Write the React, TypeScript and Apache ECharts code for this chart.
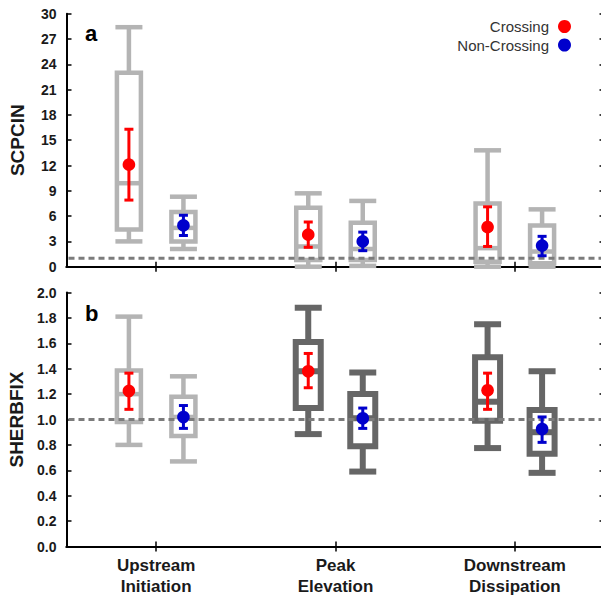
import React, { useEffect, useRef } from 'react';
import * as echarts from 'echarts';

// Categories (x axis)
const categories = ['Upstream\nInitiation', 'Peak\nElevation', 'Downstream\nDissipation'];
const groupNames = ['Crossing', 'Non-Crossing'];

// Panel a: SCPCIN box statistics [min, Q1, median, Q3, max]
const scpcinCrossingBox = [
  [3.0, 4.4, 9.9, 23.0, 28.4],
  [0.0, 0.8, 2.4, 7.0, 8.7],
  [0.0, 0.6, 2.2, 7.5, 13.8],
];
const scpcinNonCrossingBox = [
  [2.1, 3.0, 4.6, 6.5, 8.3],
  [0.1, 0.8, 2.1, 5.2, 7.8],
  [0.0, 0.4, 1.8, 4.9, 6.8],
];
// Panel a: mean and error range [mean, low, high]
const scpcinCrossingMean = [
  [12.1, 7.9, 16.3],
  [3.8, 2.3, 5.3],
  [4.7, 2.4, 7.1],
];
const scpcinNonCrossingMean = [
  [4.9, 3.7, 6.1],
  [3.0, 1.9, 4.1],
  [2.5, 1.3, 3.6],
];

// Panel b: SHERBFIX box statistics [min, Q1, median, Q3, max]
const sherbfixCrossingBox = [
  [0.80, 0.98, 1.20, 1.385, 1.81],
  [0.885, 1.09, 1.38, 1.61, 1.88],
  [0.775, 0.99, 1.14, 1.49, 1.75],
];
const sherbfixNonCrossingBox = [
  [0.67, 0.87, 1.02, 1.18, 1.34],
  [0.59, 0.79, 1.01, 1.20, 1.37],
  [0.58, 0.73, 0.90, 1.075, 1.38],
];
// Panel b: mean and error range [mean, low, high]
const sherbfixCrossingMean = [
  [1.225, 1.08, 1.365],
  [1.38, 1.25, 1.52],
  [1.23, 1.08, 1.365],
];
const sherbfixNonCrossingMean = [
  [1.02, 0.93, 1.11],
  [1.01, 0.93, 1.09],
  [0.925, 0.82, 1.02],
];

// Reference lines
const scpcinRef = 1;
const sherbfixRef = 1;

// Y tick settings
const scpcinAxis = { min: 0, max: 30, interval: 3 };
const sherbfixAxis = { min: 0, max: 2, interval: 0.2 };

const FONT = '"Liberation Sans", Arial, Helvetica, sans-serif';
const LIGHT = '#b4b4b4';
const DARK = '#666666';
const RED = '#ff0000';
const BLUE = '#0000cc';
const OFFSET = 0.152;

function boxSeries(data: number[][], offset: number, gi: number, colors: string[], widths: number[]) {
  return {
    type: 'custom',
    xAxisIndex: gi * 2,
    yAxisIndex: gi * 2,
    z: 2,
    clip: false,
    silent: true,
    data: data.map((d, i) => [i, ...d]),
    encode: { x: 0, y: [1, 2, 3, 4, 5] },
    renderItem: (params: any, api: any) => {
      const idx = api.value(0);
      const band = api.size([1, 0])[0];
      const cx = api.coord([idx, 0])[0] + offset * band;
      const y = (k: number) => api.coord([idx, api.value(k)])[1];
      const yMin = y(1), yQ1 = y(2), yMed = y(3), yQ3 = y(4), yMax = y(5);
      const color = colors[params.dataIndex];
      const lw = widths[params.dataIndex];
      const half = lw > 5 ? 12.5 : 12;
      const cap = 13.5;
      const st = { stroke: color, lineWidth: lw, fill: 'none' };
      return {
        type: 'group',
        children: [
          { type: 'line', shape: { x1: cx, y1: yMax, x2: cx, y2: yQ3 }, style: st },
          { type: 'line', shape: { x1: cx, y1: yQ1, x2: cx, y2: yMin }, style: st },
          { type: 'line', shape: { x1: cx - cap, y1: yMax, x2: cx + cap, y2: yMax }, style: st },
          { type: 'line', shape: { x1: cx - cap, y1: yMin, x2: cx + cap, y2: yMin }, style: st },
          { type: 'rect', shape: { x: cx - half, y: yQ3, width: half * 2, height: yQ1 - yQ3 }, style: st },
          { type: 'line', shape: { x1: cx - half, y1: yMed, x2: cx + half, y2: yMed }, style: st },
        ],
      };
    },
  };
}

function meanSeries(name: string, data: number[][], offset: number, gi: number, color: string) {
  return {
    type: 'custom',
    name,
    xAxisIndex: gi * 2,
    yAxisIndex: gi * 2,
    z: 5,
    clip: false,
    silent: true,
    itemStyle: { color },
    data: data.map((d, i) => [i, ...d]),
    encode: { x: 0, y: [1, 2, 3] },
    renderItem: (params: any, api: any) => {
      const idx = api.value(0);
      const band = api.size([1, 0])[0];
      const cx = api.coord([idx, 0])[0] + offset * band;
      const yMean = api.coord([idx, api.value(1)])[1];
      const yLo = api.coord([idx, api.value(2)])[1];
      const yHi = api.coord([idx, api.value(3)])[1];
      const st = { stroke: color, lineWidth: 3, fill: 'none' };
      const c = 4.5;
      return {
        type: 'group',
        children: [
          { type: 'line', shape: { x1: cx, y1: yLo, x2: cx, y2: yHi }, style: st },
          { type: 'line', shape: { x1: cx - c, y1: yLo, x2: cx + c, y2: yLo }, style: st },
          { type: 'line', shape: { x1: cx - c, y1: yHi, x2: cx + c, y2: yHi }, style: st },
          { type: 'circle', shape: { cx, cy: yMean, r: 6.3 }, style: { fill: color } },
        ],
      };
    },
  };
}

function refSeries(value: number, gi: number) {
  return {
    type: 'custom',
    xAxisIndex: gi * 2,
    yAxisIndex: gi * 2,
    z: 3,
    clip: false,
    silent: true,
    data: [[0, value]],
    encode: { x: 0, y: 1 },
    renderItem: (params: any, api: any) => {
      const cs = params.coordSys;
      const yy = api.coord([0, api.value(1)])[1];
      return {
        type: 'line',
        shape: { x1: cs.x + 2, y1: yy, x2: cs.x + cs.width, y2: yy },
        style: { stroke: '#7c7c7c', lineWidth: 3, lineDash: [6, 4] },
      };
    },
  };
}

function xAxes(gi: number, showLabels: boolean) {
  const base = {
    type: 'category',
    gridIndex: gi,
    data: categories,
    boundaryGap: true,
    axisLine: { show: true, lineStyle: { color: '#000', width: 2 } },
    axisTick: { show: true, inside: true, alignWithLabel: true, length: 5, lineStyle: { color: '#000', width: 1.5 } },
    splitLine: { show: false },
  };
  return [
    {
      ...base,
      position: 'bottom',
      axisLabel: {
        show: showLabels,
        margin: 8,
        fontFamily: FONT,
        fontSize: 17,
        fontWeight: 'bold',
        color: '#1a1a1a',
        lineHeight: 21,
      },
    },
    { ...base, position: 'top', axisLabel: { show: false } },
  ];
}

function yAxes(gi: number, name: string, ax: { min: number; max: number; interval: number }, decimals: number) {
  const base = {
    type: 'value',
    gridIndex: gi,
    min: ax.min,
    max: ax.max,
    interval: ax.interval,
    axisLine: { show: true, lineStyle: { color: '#000', width: 2 } },
    axisTick: { show: true, inside: true, length: 5, lineStyle: { color: '#000', width: 1.5 } },
    splitLine: { show: false },
  };
  return [
    {
      ...base,
      position: 'left',
      name,
      nameLocation: 'middle',
      nameGap: 40,
      nameTextStyle: { fontFamily: FONT, fontSize: 19, fontWeight: 'bold', color: '#1a1a1a' },
      axisLabel: {
        margin: 10,
        fontFamily: FONT,
        fontSize: 14,
        fontWeight: 'bold',
        color: '#1a1a1a',
        formatter: (v: number) => v.toFixed(decimals),
      },
    },
    { ...base, position: 'right', axisLabel: { show: false } },
  ];
}

export default function App() {
  const ref = useRef<HTMLDivElement>(null);
  useEffect(() => {
    document.body.style.margin = '0';
    if (!ref.current) return;
    const chart = echarts.init(ref.current, undefined, { renderer: 'svg' });
    const lightA = [LIGHT, LIGHT, LIGHT];
    const lwA = [4.5, 4.5, 4.5];
    const colB = [LIGHT, DARK, DARK];
    const lwB = [4.5, 6, 6];
    const option: any = {
      animation: false,
      textStyle: { fontFamily: FONT },
      grid: [
        { left: 66.5, width: 538, top: 13.7, height: 253, containLabel: false, outerBoundsMode: 'none' },
        { left: 66.5, width: 538, top: 292.5, height: 254, containLabel: false, outerBoundsMode: 'none' },
      ],
      xAxis: [...xAxes(0, false), ...xAxes(1, true)],
      yAxis: [...yAxes(0, 'SCPCIN', scpcinAxis, 0), ...yAxes(1, 'SHERBFIX', sherbfixAxis, 1)],
      legend: {
        data: [
          { name: groupNames[0], icon: 'circle' },
          { name: groupNames[1], icon: 'circle' },
        ],
        orient: 'vertical',
        align: 'right',
        right: 30,
        top: 19,
        padding: 0,
        itemWidth: 13,
        itemHeight: 13,
        itemGap: 3.5,
        selectedMode: false,
        textStyle: { fontFamily: FONT, fontSize: 15, color: '#333', padding: [0, 4, 0, 0], lineHeight: 13 },
      },
      graphic: [
        { type: 'text', left: 85, top: 22, style: { text: 'a', fontFamily: FONT, fontSize: 22, fontWeight: 'bold', fill: '#000' } },
        { type: 'text', left: 85, top: 302, style: { text: 'b', fontFamily: FONT, fontSize: 22, fontWeight: 'bold', fill: '#000' } },
      ],
      series: [
        boxSeries(scpcinCrossingBox, -OFFSET, 0, lightA, lwA),
        boxSeries(scpcinNonCrossingBox, OFFSET, 0, lightA, lwA),
        refSeries(scpcinRef, 0),
        meanSeries(groupNames[0], scpcinCrossingMean, -OFFSET, 0, RED),
        meanSeries(groupNames[1], scpcinNonCrossingMean, OFFSET, 0, BLUE),
        boxSeries(sherbfixCrossingBox, -OFFSET, 1, colB, lwB),
        boxSeries(sherbfixNonCrossingBox, OFFSET, 1, colB, lwB),
        refSeries(sherbfixRef, 1),
        meanSeries(groupNames[0], sherbfixCrossingMean, -OFFSET, 1, RED),
        meanSeries(groupNames[1], sherbfixNonCrossingMean, OFFSET, 1, BLUE),
      ],
    };
    chart.setOption(option);
    return () => chart.dispose();
  }, []);
  return <div ref={ref} style={{ width: 601, height: 599 }} />;
}
